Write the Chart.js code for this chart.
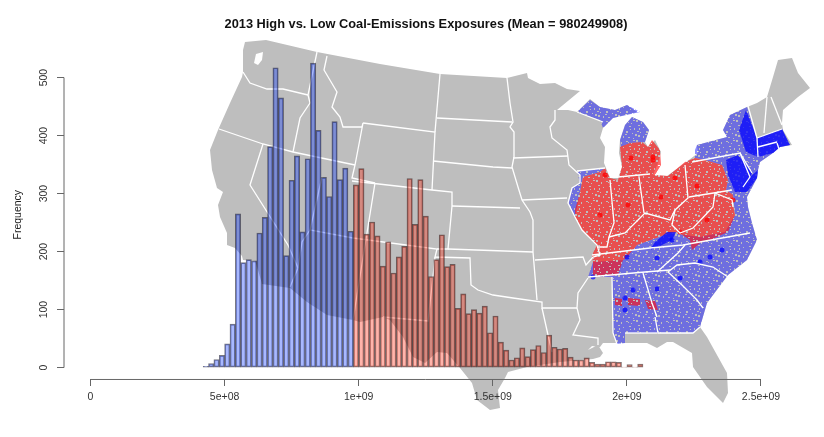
<!DOCTYPE html>
<html><head><meta charset="utf-8">
<style>html,body{margin:0;padding:0;background:#fff}canvas{display:block;filter:blur(.4px)}#w{width:824px;height:437px}</style>
<script src="https://cdn.jsdelivr.net/npm/chart.js@4"></script></head>
<body><div id="w"><canvas id="c" width="824" height="437"></canvas></div>
<script>
const chartTitle = '2013 High vs. Low Coal-Emissions Exposures (Mean = 980249908)';
const yAxisTitle = 'Frequency';
const binStart = 4.2e8, binWidth = 2e7;
const lowCounts = [2,7,14,21,41,75,265,181,186,184,232,259,381,517,465,193,323,365,234,360,525,409,328,295,424,324,344,235];
const highCounts = [315,343,230,251,227,175,217,163,191,209,326,247,324,261,157,186,229,174,178,102,127,93,100,94,106,60,89,44,30,13,17,34,19,31,38,26,56,35,32,33,18,13,13,17,9,6,6,10,10,9,1,5,1,6];
const xTicks = [0,5e8,1e9,1.5e9,2e9,2.5e9];
const xTickLabels = ['0','5e+08','1e+09','1.5e+09','2e+09','2.5e+09'];
const yTicks = [0,100,200,300,400,500];

// background map, in map units
const usOutline = [[245,42],[266,40],[317,52],[380,64],[440,74],[507,78],[527,73],[528,78],[540,84],[555,83],[567,89],[580,91],[557,110],[568,110],[577,112],[590,99],[600,107],[615,110],[627,105],[637,112],[613,118],[603,128],[600,138],[605,147],[604,163],[610,178],[618,178],[622,167],[619,153],[620,140],[625,125],[632,117],[643,122],[649,130],[645,142],[648,147],[655,140],[661,152],[658,163],[653,175],[667,176],[685,163],[698,153],[697,145],[727,137],[723,130],[730,115],[747,107],[757,103],[767,97],[773,77],[778,60],[792,58],[798,73],[810,88],[798,97],[783,110],[782,123],[783,130],[792,145],[780,147],[773,153],[760,162],[758,170],[757,178],[747,197],[748,207],[752,223],[757,240],[747,260],[728,275],[707,303],[700,327],[707,337],[727,373],[728,393],[723,403],[707,387],[693,367],[692,353],[673,342],[667,342],[657,348],[647,343],[625,343],[617,343],[603,343],[600,347],[592,346],[588,350],[598,345],[603,353],[600,357],[593,359],[560,362],[527,367],[508,372],[505,378],[498,390],[500,408],[490,410],[477,400],[472,383],[460,368],[447,353],[437,352],[425,363],[413,357],[403,337],[390,320],[383,317],[360,322],[353,320],[327,315],[307,302],[290,288],[262,284],[258,270],[255,261],[243,260],[242,256],[235,248],[227,245],[227,233],[220,217],[218,205],[223,192],[217,188],[212,170],[210,150],[218,130],[230,103],[242,77],[243,72],[243,50]];
const pugetSound = [[256,54],[263,52],[262,60],[258,65],[254,63]];
const lowStipple = [
 [[577,112],[590,100],[600,107],[615,110],[627,105],[640,112],[613,118],[603,128],[600,120]],
 [[621,147],[620,140],[625,125],[632,117],[643,122],[649,130],[645,142],[630,143]],
 [[583,177],[600,172],[605,168],[577,171],[580,183],[572,188],[568,203],[575,217],[580,192]],
 [[695,150],[697,145],[727,137],[723,130],[730,115],[747,107],[757,138],[782,129],[785,135],[790,145],[780,147],[773,153],[760,162],[758,170],[757,178],[747,197],[748,207],[752,223],[757,240],[747,260],[728,275],[707,303],[700,327],[693,333],[658,333],[625,333],[625,343],[617,344],[613,333],[612,277],[588,277],[593,262],[623,260],[637,245],[670,233],[700,237],[725,232],[735,215],[733,195],[726,190],[728,180],[722,165],[705,160],[695,158]]
];
const highStipple = [
 [[620,147],[630,143],[642,142],[648,147],[652,140],[660,150],[661,165],[655,175],[668,176],[685,162],[695,158],[705,160],[722,165],[728,180],[726,190],[733,195],[733,205],[735,215],[728,232],[710,240],[700,243],[692,250],[690,240],[678,232],[670,233],[637,245],[627,257],[623,260],[618,275],[593,277],[593,262],[592,255],[597,245],[582,230],[575,217],[575,210],[580,192],[583,177],[600,172],[605,168],[610,178],[618,180],[622,167]],
 [[615,298],[622,299],[622,306],[615,305]],[[628,298],[640,299],[640,306],[628,305]],[[645,300],[655,301],[658,310],[648,309]]
];
const lowSolid = [
 [[757,138],[782,129],[785,135],[790,145],[780,147],[773,153],[758,157]],
 [[726,160],[738,155],[752,173],[750,177],[758,170],[757,178],[747,192],[735,192],[728,175]],
 [[667,232],[676,232],[672,240],[660,246],[650,250],[655,242]],
 [[746,110],[757,138],[758,157],[746,152],[739,130]]
];
const lowHot = [[593,277],[625,298],[657,289],[627,257],[633,290],[710,257],[722,250],[700,262],[657,258],[672,240],[680,278],[625,310]];
const highHot = [[605,175],[697,186],[628,205],[661,197],[653,157],[653,160],[631,158],[675,178],[600,215],[680,232],[733,200],[707,220]];
const stateBorders = [
 [[243,72],[250,83],[267,89],[283,89],[308,95]],[[317,52],[308,95],[310,103],[300,118],[293,152]],
 [[219,129],[263,144],[293,152],[355,165]],[[263,144],[250,185],[288,245],[298,268],[290,287]],
 [[327,56],[324,70],[337,92],[332,107],[340,117],[343,127],[362,127],[363,123],[355,165],[352,178],[375,183]],
 [[363,123],[435,132],[432,190]],[[440,74],[435,132]],[[437,118],[512,122]],[[433,161],[493,167],[512,168]],
 [[352,181],[432,190],[452,192],[452,206],[448,249],[437,249]],[[452,206],[520,208]],[[448,249],[533,252]],
 [[375,183],[353,320]],[[322,177],[310,230],[353,238],[437,249],[435,257],[470,258],[471,285],[478,290],[493,295],[513,298],[542,302],[542,308],[577,308]],
 [[310,230],[302,242],[298,268]],[[383,317],[428,321],[433,277],[435,257]],[[542,308],[548,335],[552,352]],
 [[507,78],[510,103],[513,122],[510,127],[514,132],[514,157],[512,167],[518,187],[522,200],[530,212],[533,220],[533,252],[537,300]],
 [[513,158],[568,156]],[[555,110],[555,120],[550,127],[552,138],[567,150],[569,165],[580,175],[580,183],[572,188],[568,203],[575,217],[582,230],[597,245],[600,255],[593,257],[586,265],[583,257],[535,260]],
 [[577,171],[605,168]],[[577,112],[603,122]],[[522,200],[567,198]],[[610,180],[614,223],[609,237],[607,247],[597,247]],
 [[609,237],[625,233],[638,220],[645,213],[670,220],[675,210],[688,198],[685,165]],[[639,177],[644,213]],[[618,177],[650,174]],
 [[592,255],[650,248],[683,245],[750,233]],[[588,277],[645,272],[670,270]],[[657,272],[678,253],[685,245]],
 [[668,272],[677,265],[695,263],[713,267],[728,277]],[[668,272],[682,285],[697,300],[703,308]],[[655,317],[658,333],[693,333],[700,327]],
 [[643,273],[652,303],[657,317]],[[625,333],[657,333]],[[612,277],[613,333],[617,344]],[[588,278],[578,293],[577,308],[580,320],[573,335],[598,338],[598,345]],
 [[689,197],[732,190]],[[692,162],[740,153],[752,173]],[[740,153],[750,177],[743,187]],[[715,193],[732,200],[733,207]],
 [[675,210],[672,225],[680,233],[693,228],[713,207],[715,193]],[[748,106],[757,138],[758,157]],[[758,147],[777,142]],[[777,143],[780,152]],
 [[767,97],[764,133]],[[771,97],[782,125]],[[757,138],[782,129]]
];

const stippleHoles = [[1,2],[6,1],[11,3],[16,0],[3,7],[9,6],[14,8],[18,5],[0,12],[6,11],[12,13],[17,11],[3,16],[8,17],[13,18],[18,15],[8,2],[13,0],[19,8],[5,14],[10,9],[15,14]];
function stipple(base){
  const t = document.createElement('canvas'); t.width = t.height = 20;
  const g = t.getContext('2d'); g.fillStyle = base; g.fillRect(0,0,20,20);
  stippleHoles.forEach((h,i) => g.clearRect(h[0],h[1],i%2?2:1,i%3?1:2));
  return g.createPattern(t,'repeat');
}
const pts = a => a.map(p => ({x:p[0],y:p[1]}));
const mapFill = (a,color,order) => ({type:'line',xAxisID:'mapX',yAxisID:'mapY',data:pts(a),order,clip:false,
  fill:'shape',backgroundColor:color,borderWidth:0,borderColor:'transparent',pointRadius:0,tension:0});
const mapLine = (a,order) => ({type:'line',xAxisID:'mapX',yAxisID:'mapY',data:pts(a),order,clip:false,
  fill:false,borderColor:'#ffffff',borderWidth:1.3,pointRadius:0,tension:0});
const hot = (a,color) => ({type:'scatter',xAxisID:'mapX',yAxisID:'mapY',data:pts(a),order:6,clip:false,
  backgroundColor:color,borderWidth:0,pointRadius:2.5});

const xMin = -9.88e7, xMax = -9.88e7 + 756/134.1*5e8;
const yMin = -85.2, yMax = 577.9, axisY = -20.5;
const binsOf = (c,first) => c.map((v,i) => ({x:binStart+(first+i+.5)*binWidth,y:v}));
const barStyle = {type:'bar',barPercentage:1,categoryPercentage:1,grouped:false,borderWidth:1,borderSkipped:false,order:1,xAxisID:'x',yAxisID:'y'};
const axisLine = a => ({type:'line',xAxisID:'x',yAxisID:'y',data:pts(a),order:0,clip:false,fill:false,borderColor:'#666',borderWidth:1,pointRadius:0});

new Chart(document.getElementById('c'),{
  plugins:[{id:'yTitleShift',beforeDraw:c=>{c.scales.y.bottom -= 20;}}],
  data:{datasets:[
    mapFill(usOutline,'#bebebe',10),
    mapFill(pugetSound,'#ffffff',9.5),
    ...lowStipple.map(a=>mapFill(a,stipple('rgba(30,30,255,.5)'),9)),
    ...highStipple.map(a=>mapFill(a,stipple('rgba(255,20,20,.65)'),8)),
    ...lowSolid.map(a=>mapFill(a,'rgba(0,0,255,.72)',7)),
    hot(lowHot,'rgba(0,0,255,.7)'),hot(highHot,'rgba(255,0,0,.75)'),
    ...stateBorders.map(a=>mapLine(a,5)),
    {...barStyle,data:binsOf(lowCounts,0),backgroundColor:'rgba(0,47,255,.34)',borderColor:'rgba(30,30,50,.6)'},
    {...barStyle,data:binsOf(highCounts,lowCounts.length),backgroundColor:'rgba(255,35,10,.34)',borderColor:'rgba(50,25,25,.6)'},
    axisLine([[0,axisY],[2.5e9,axisY]]),
    axisLine([[xMin,0],[xMin,500]])
  ]},
  options:{
    responsive:false,animation:false,
    layout:{padding:{left:0,right:-28,top:0,bottom:20}},
    plugins:{legend:{display:false},tooltip:{enabled:false},
      title:{display:true,text:chartTitle,color:'#111',font:{family:'"Liberation Sans"',size:12.8,weight:'bold',lineHeight:1.2},padding:{top:16.5,bottom:.54}}},
    scales:{
      x:{type:'linear',min:xMin,max:xMax,position:{y:axisY},offset:false,
        border:{display:false},
        grid:{z:1,offset:false,drawOnChartArea:false,drawTicks:true,tickLength:7,tickColor:'#666'},
        afterBuildTicks:s=>{s.ticks=xTicks.map(v=>({value:v}));},
        ticks:{z:1,autoSkip:false,maxRotation:0,padding:4,color:'#333',font:{family:'"Liberation Sans"',size:10.5},
          callback:v=>xTickLabels[xTicks.indexOf(v)]}},
      y:{type:'linear',min:yMin,max:yMax,position:'left',
        afterFit:s=>{s.width=64;},
        border:{display:false},
        grid:{drawOnChartArea:false,drawTicks:true,tickLength:7,tickColor:'#666'},
        afterBuildTicks:s=>{s.ticks=yTicks.map(v=>({value:v}));},
        title:{display:true,text:yAxisTitle,color:'#222',font:{family:'"Liberation Sans"',size:10.5,lineHeight:1.2},padding:{top:11.7,bottom:0}},
        ticks:{autoSkip:false,minRotation:90,maxRotation:90,crossAlign:'center',padding:4,color:'#333',font:{family:'"Liberation Sans"',size:10.5}}},
      mapX:{type:'linear',display:false,min:64,max:820},
      mapY:{type:'linear',display:false,min:32.4,max:417,reverse:true}
    }
  }
});
</script></body></html>
